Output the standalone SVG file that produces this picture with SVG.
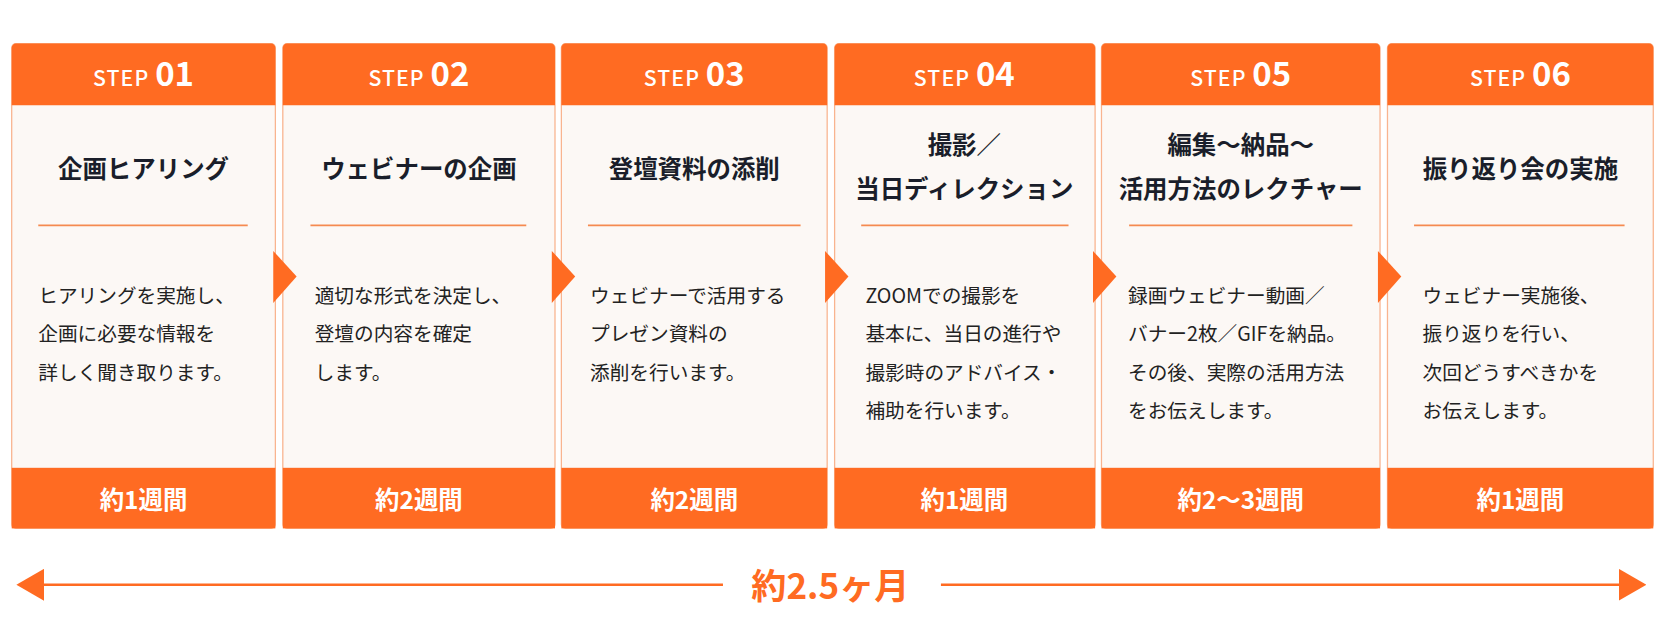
<svg xmlns="http://www.w3.org/2000/svg" width="1667" height="639" viewBox="0 0 1667 639">
<defs><style>
.card{fill:#fcf8f5;stroke:#f9b48f;stroke-width:1.2}
.hd{fill:#ff6b22}
.st{font-family:"Noto Sans CJK JP","Noto Sans",sans-serif;fill:#fff;font-weight:500;font-size:20px;letter-spacing:1px}
.num{font-size:31px;font-weight:700;letter-spacing:0}
.tt{font-family:"Noto Sans CJK JP",sans-serif;font-weight:700;font-size:23px;fill:#1a1e2a;text-anchor:middle}
.bd{font-family:"Noto Sans CJK JP",sans-serif;font-size:18.5px;fill:#222;}
.ft{font-family:"Noto Sans CJK JP",sans-serif;font-weight:700;font-size:23px;fill:#fff;text-anchor:middle}
.dv{stroke:#f58a50;stroke-width:1.5}
.ar{fill:#ff6b22}
</style>
<marker id="ah" viewBox="0 0 10 10" refX="9" refY="5" markerWidth="26" markerHeight="30" markerUnits="userSpaceOnUse" orient="auto-start-reverse" preserveAspectRatio="none"><path d="M0,0L10,5L0,10z" fill="#ff6b22"/></marker>
</defs>
<rect width="1667" height="639" fill="#fff"/>
<g transform="scale(1.0632)">
<g id="step1"><rect class="card" x="11" y="41" width="248" height="456" rx="4"/><path class="hd" d="M11,45a4,4 0 0 1 4,-4h240a4,4 0 0 1 4,4v54h-248z"/><text class="st" x="135" y="81" text-anchor="middle">STEP <tspan class="num">01</tspan></text><text class="tt" x="135" y="167">企画ヒアリング</text><line class="dv" x1="36" y1="212" x2="233" y2="212"/><text class="bd" x="36" y="285">ヒアリングを実施し、</text><text class="bd" x="36" y="321">企画に必要な情報を</text><text class="bd" x="36" y="357">詳しく聞き取ります。</text><rect class="hd" x="11" y="440" width="248" height="57"/><text class="ft" x="135" y="479">約1週間</text></g>
<g id="step2"><rect class="card" x="266" y="41" width="256" height="456" rx="4"/><path class="hd" d="M266,45a4,4 0 0 1 4,-4h248a4,4 0 0 1 4,4v54h-256z"/><text class="st" x="394" y="81" text-anchor="middle">STEP <tspan class="num">02</tspan></text><text class="tt" x="394" y="167">ウェビナーの企画</text><line class="dv" x1="292" y1="212" x2="495" y2="212"/><text class="bd" x="296" y="285">適切な形式を決定し、</text><text class="bd" x="296" y="321">登壇の内容を確定</text><text class="bd" x="296" y="357">します。</text><rect class="hd" x="266" y="440" width="256" height="57"/><text class="ft" x="394" y="479">約2週間</text></g>
<g id="step3"><rect class="card" x="528" y="41" width="250" height="456" rx="4"/><path class="hd" d="M528,45a4,4 0 0 1 4,-4h242a4,4 0 0 1 4,4v54h-250z"/><text class="st" x="653" y="81" text-anchor="middle">STEP <tspan class="num">03</tspan></text><text class="tt" x="653" y="167">登壇資料の添削</text><line class="dv" x1="553" y1="212" x2="753" y2="212"/><text class="bd" x="555" y="285">ウェビナーで活用する</text><text class="bd" x="555" y="321">プレゼン資料の</text><text class="bd" x="555" y="357">添削を行います。</text><rect class="hd" x="528" y="440" width="250" height="57"/><text class="ft" x="653" y="479">約2週間</text></g>
<g id="step4"><rect class="card" x="785" y="41" width="245" height="456" rx="4"/><path class="hd" d="M785,45a4,4 0 0 1 4,-4h237a4,4 0 0 1 4,4v54h-245z"/><text class="st" x="907" y="81" text-anchor="middle">STEP <tspan class="num">04</tspan></text><text class="tt" x="907" y="145">撮影／</text><text class="tt" x="907" y="186">当日ディレクション</text><line class="dv" x1="810" y1="212" x2="1005" y2="212"/><text class="bd" x="814" y="285"> ZOOMでの撮影を</text><text class="bd" x="814" y="321">基本に、当日の進行や</text><text class="bd" x="814" y="357">撮影時のアドバイス・</text><text class="bd" x="814" y="393">補助を行います。</text><rect class="hd" x="785" y="440" width="245" height="57"/><text class="ft" x="907" y="479">約1週間</text></g>
<g id="step5"><rect class="card" x="1036" y="41" width="262" height="456" rx="4"/><path class="hd" d="M1036,45a4,4 0 0 1 4,-4h254a4,4 0 0 1 4,4v54h-262z"/><text class="st" x="1167" y="81" text-anchor="middle">STEP <tspan class="num">05</tspan></text><text class="tt" x="1167" y="145">編集～納品～</text><text class="tt" x="1167" y="186">活用方法のレクチャー</text><line class="dv" x1="1062" y1="212" x2="1272" y2="212"/><text class="bd" x="1061" y="285">録画ウェビナー動画／</text><text class="bd" x="1061" y="321">バナー2枚／GIFを納品。</text><text class="bd" x="1061" y="357">その後、実際の活用方法</text><text class="bd" x="1061" y="393">をお伝えします。</text><rect class="hd" x="1036" y="440" width="262" height="57"/><text class="ft" x="1167" y="479">約2～3週間</text></g>
<g id="step6"><rect class="card" x="1305" y="41" width="250" height="456" rx="4"/><path class="hd" d="M1305,45a4,4 0 0 1 4,-4h242a4,4 0 0 1 4,4v54h-250z"/><text class="st" x="1430" y="81" text-anchor="middle">STEP <tspan class="num">06</tspan></text><text class="tt" x="1430" y="167">振り返り会の実施</text><line class="dv" x1="1330" y1="212" x2="1528" y2="212"/><text class="bd" x="1338" y="285">ウェビナー実施後、</text><text class="bd" x="1338" y="321">振り返りを行い、</text><text class="bd" x="1338" y="357">次回どうすべきかを</text><text class="bd" x="1338" y="393">お伝えします。</text><rect class="hd" x="1305" y="440" width="250" height="57"/><text class="ft" x="1430" y="479">約1週間</text></g>
<g id="connectors">
<path class="ar" d="M257,236L279,260L257,285z"/>
<path class="ar" d="M519,236L541,260L519,285z"/>
<path class="ar" d="M776,236L798,260L776,285z"/>
<path class="ar" d="M1028,236L1050,260L1028,285z"/>
<path class="ar" d="M1296,236L1318,260L1296,285z"/>
<line x1="18" y1="550" x2="680" y2="550" stroke="#ff6b22" stroke-width="2.5" marker-start="url(#ah)"/>
<line x1="885" y1="550" x2="1546" y2="550" stroke="#ff6b22" stroke-width="2.5" marker-end="url(#ah)"/>
</g>
<text x="781" y="563" text-anchor="middle" font-family="Noto Sans CJK JP,sans-serif" font-weight="700" font-size="33" fill="#ff6b22">約2.5ヶ月</text>
</g>
</svg>
